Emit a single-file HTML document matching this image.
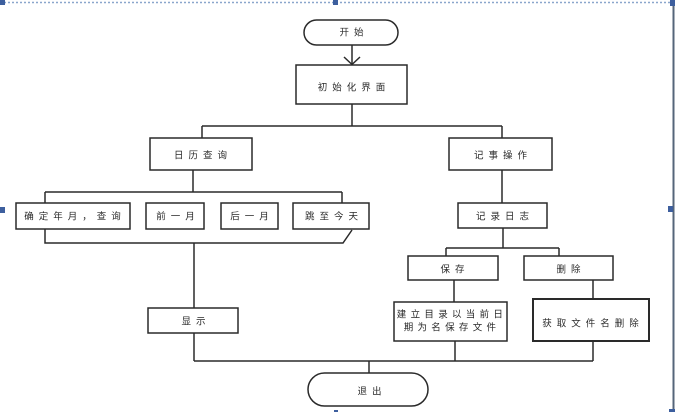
<!DOCTYPE html>
<html><head><meta charset="utf-8"><style>
html,body{margin:0;padding:0;background:#fff;}
svg{display:block;}
text{font-family:"Liberation Sans","Noto Sans CJK SC",sans-serif;font-size:9.5px;fill:#2a2a2a;letter-spacing:5px;text-anchor:middle;dominant-baseline:central;}
</style></head><body>
<svg width="675" height="412" viewBox="0 0 675 412" xmlns="http://www.w3.org/2000/svg">
<rect width="675" height="412" fill="#fff"/>
<!-- frame -->
<line x1="0" y1="2.5" x2="672" y2="2.5" stroke="#8aa6cc" stroke-width="1.5" stroke-dasharray="2,2"/>
<line x1="673.5" y1="4" x2="673.5" y2="410" stroke="#55657a" stroke-width="2"/>
<rect x="0" y="0" width="5" height="5" fill="#3d5f9e"/>
<rect x="333" y="0" width="5" height="5" fill="#3d5f9e"/>
<rect x="670" y="0" width="5" height="6" fill="#3d5f9e"/>
<rect x="0" y="207" width="5" height="6" fill="#3d5f9e"/>
<rect x="668" y="206" width="5" height="6" fill="#3d5f9e"/>
<rect x="669" y="409" width="6" height="3" fill="#3d5f9e"/>
<rect x="334" y="410" width="4" height="2" fill="#3d5f9e"/>

<g fill="none" stroke="#2a2a2a" stroke-width="1.5">
<!-- start -->
<rect x="304" y="20" width="94" height="25" rx="12.5"/>
<line x1="352" y1="45" x2="352" y2="65"/>
<polyline points="344,57 352,64.5 360,57"/>
<rect x="296" y="65" width="111" height="39"/>
<line x1="352" y1="104" x2="352" y2="126"/>
<line x1="202" y1="126" x2="502" y2="126"/>
<line x1="202" y1="126" x2="202" y2="138"/>
<line x1="502" y1="126" x2="502" y2="138"/>
<rect x="150" y="138" width="102" height="32"/>
<rect x="449" y="138" width="103" height="32"/>
<!-- left branch -->
<line x1="193" y1="170" x2="193" y2="192"/>
<line x1="45" y1="192" x2="342" y2="192"/>
<line x1="45" y1="192" x2="45" y2="203"/>
<line x1="342" y1="192" x2="342" y2="203"/>
<rect x="16" y="203" width="114" height="26"/>
<rect x="146" y="203" width="58" height="26"/>
<rect x="221" y="203" width="57" height="26"/>
<rect x="293" y="203" width="76" height="26"/>
<polyline points="45,229 45,243 343,243 352,230"/>
<line x1="194" y1="243" x2="194" y2="308"/>
<rect x="148" y="308" width="90" height="25"/>
<line x1="194" y1="333" x2="194" y2="361"/>
<line x1="194" y1="361" x2="593" y2="361"/>
<line x1="369" y1="361" x2="369" y2="373"/>
<rect x="308" y="373" width="120" height="33" rx="16.5"/>
<!-- right branch -->
<line x1="502" y1="170" x2="502" y2="203"/>
<rect x="458" y="203" width="89" height="25"/>
<line x1="503" y1="228" x2="503" y2="248"/>
<line x1="446" y1="248" x2="559" y2="248"/>
<line x1="446" y1="248" x2="446" y2="256"/>
<line x1="559" y1="248" x2="559" y2="256"/>
<rect x="408" y="256" width="90" height="24"/>
<rect x="524" y="256" width="89" height="24"/>
<line x1="454" y1="280" x2="454" y2="302"/>
<rect x="394" y="302" width="113" height="39"/>
<line x1="593" y1="280" x2="593" y2="299"/>
<rect x="533" y="299" width="116" height="42" stroke-width="2"/>
<line x1="455" y1="341" x2="455" y2="361"/>
<line x1="593" y1="341" x2="593" y2="361"/>
</g>

<text x="354" y="33">开始</text>
<text x="354" y="88">初始化界面</text>
<text x="203" y="156">日历查询</text>
<text x="503" y="156">记事操作</text>
<text x="75" y="217">确定年月，查询</text>
<text x="178" y="217">前一月</text>
<text x="252" y="217">后一月</text>
<text x="334" y="217">跳至今天</text>
<text x="505" y="217">记录日志</text>
<text x="455" y="270">保存</text>
<text x="571" y="270">删除</text>
<text x="452" y="315" style="letter-spacing:4.3px">建立目录以当前日</text>
<text x="452" y="328" style="letter-spacing:4.3px">期为名保存文件</text>
<text x="593" y="324">获取文件名删除</text>
<text x="196" y="322">显示</text>
<text x="372" y="392">退出</text>
</svg>
</body></html>
